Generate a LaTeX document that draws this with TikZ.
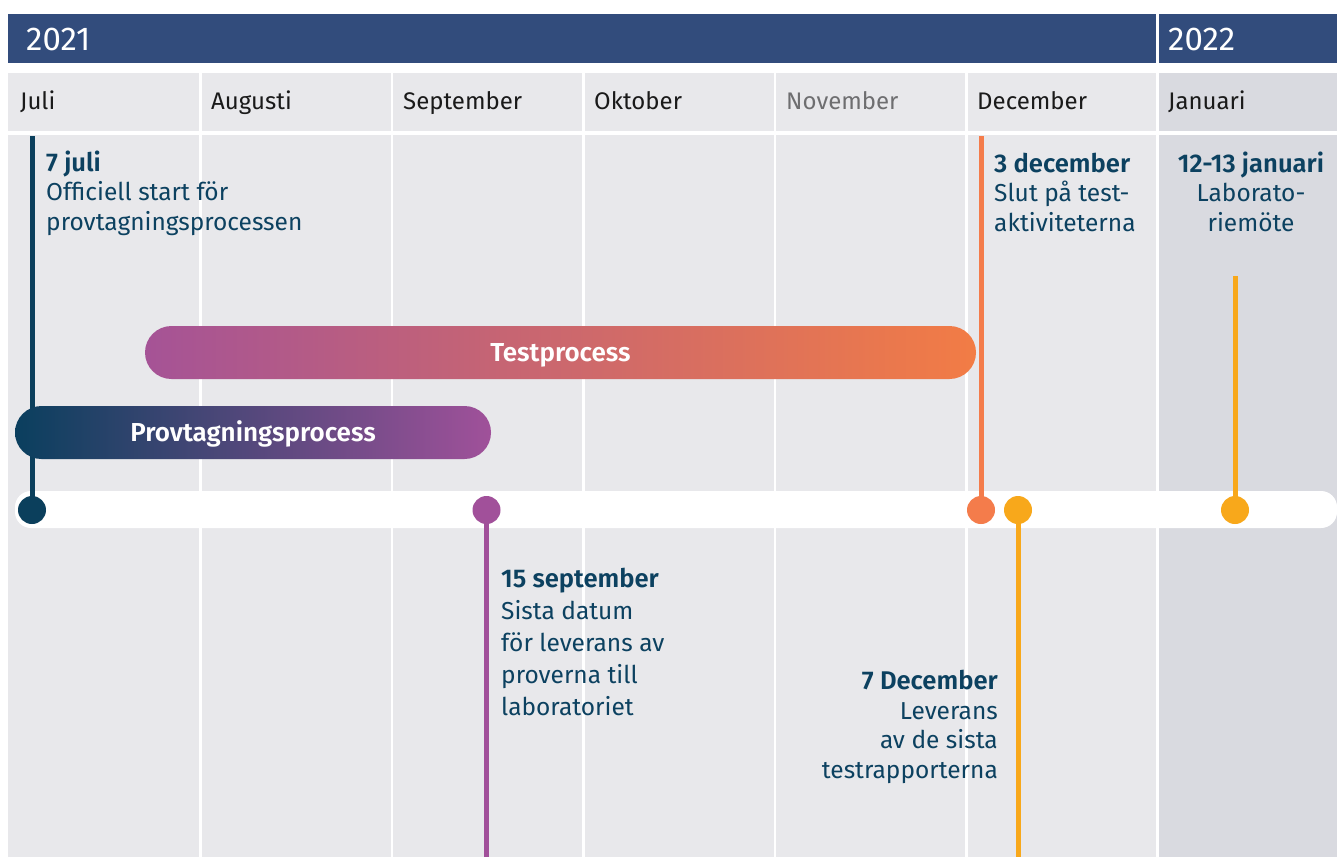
\documentclass[tikz,border=0pt]{standalone}
\usepackage{fontspec}
\setmainfont{Fira Sans}[BoldFont={Fira Sans SemiBold}]
\definecolor{banner}{HTML}{324C7C}
\definecolor{cell}{HTML}{E8E8EB}
\definecolor{cellj}{HTML}{D9DAE0}
\definecolor{ink}{HTML}{0C4160}
\definecolor{monthink}{HTML}{1A1A1A}
\definecolor{novink}{HTML}{6E6E70}
\definecolor{navy}{HTML}{0B3F5C}
\definecolor{purp}{HTML}{A1509A}
\definecolor{orng}{HTML}{F47C4B}
\definecolor{yell}{HTML}{F8A81B}
\definecolor{gradA}{HTML}{A55396}
\definecolor{gradB}{HTML}{F27C45}
\definecolor{gradC}{HTML}{0A3F5E}
\definecolor{gradD}{HTML}{A0519A}
\newcommand{\evhead}[1]{{\fontsize{25.6}{29.5}\selectfont\bfseries #1}}
\tikzset{
  yearlabel/.style={anchor=base west, inner sep=0pt, text=white, font=\fontsize{33}{38}\selectfont},
  monthlabel/.style={anchor=base west, inner sep=0pt, text=monthink, font=\fontsize{24}{28}\selectfont},
  evlabel/.style={inner sep=0pt, text=ink, font=\fontsize{24.5}{29.5}\selectfont},
  evlabelwide/.style={inner sep=0pt, text=ink, font=\fontsize{24.5}{32}\selectfont},
  stem/.style={line width=5pt},
  dot/.style={circle, inner sep=0pt, minimum size=28pt},
  pill/.style={rounded corners=26.5pt, minimum height=53pt, inner sep=0pt, text height=17.5pt, text depth=0pt, text=white, font=\fontsize{26}{30}\selectfont\bfseries},
  sep/.style={white, line width=2.5pt}
}
\begin{document}
\begin{tikzpicture}[x=1pt,y=-1pt]
\useasboundingbox (0,0) rectangle (1337,857);
% year banner
\fill[banner] (8,14) rectangle (1337,63);
\draw[sep] (1157.5,14) -- (1157.5,63);
\node[yearlabel] (y2021) at (26,50) {2021};
\node[yearlabel] (y2022) at (1168,50) {2022};
% month header and body
\fill[cell] (8,73) rectangle (1337,131);
\fill[cell] (8,135) rectangle (1337,857);
\fill[cellj] (1157.5,73) rectangle (1337,131);
\fill[cellj] (1157.5,135) rectangle (1337,857);
\foreach \sx in {200.5,392,583.5,775,966.5,1157.5}
  \draw[sep] (\sx,73) -- (\sx,857);
\node[monthlabel] (mjul) at (20,109) {Juli};
\node[monthlabel] (maug) at (211,109) {Augusti};
\node[monthlabel] (msep) at (403,109) {September};
\node[monthlabel] (mokt) at (594,109) {Oktober};
\node[monthlabel, text=novink] (mnov) at (786,109) {November};
\node[monthlabel] (mdec) at (977,109) {December};
\node[monthlabel] (mjan) at (1168,109) {Januari};
% timeline track
\fill[white, rounded corners=16pt] (15,491) rectangle (1337,528);
% coordinates
\coordinate (p1) at (32,510);   \coordinate (q1) at (32,136);
\coordinate (p2) at (486.5,510); \coordinate (q2) at (486.5,857);
\coordinate (p3) at (981,510);  \coordinate (q3) at (981,136);
\coordinate (p4) at (1018,510); \coordinate (q4) at (1018,857);
\coordinate (p5) at (1235,510); \coordinate (q5) at (1235,276);
% stems
\draw[stem, navy] (p1) -- (q1);
\draw[stem, purp] (p2) -- (q2);
\draw[stem, orng] (p3) -- (q3);
\draw[stem, yell] (p4) -- (q4);
\draw[stem, yell] (p5) -- (q5);
% process bars
\node[pill, minimum width=831pt, left color=gradA, right color=gradB] (test) at (560.5,352.5) {Testprocess};
\node[pill, minimum width=476pt, left color=gradC, right color=gradD] (prov) at (253,432.5) {Provtagningsprocess};
% dots
\node[dot, fill=navy] (d1) at (p1) {};
\node[dot, fill=purp] (d2) at (p2) {};
\node[dot, fill=orng] (d3) at (p3) {};
\node[dot, fill=yell] (d4) at (p4) {};
\node[dot, fill=yell] (d5) at (p5) {};
% event labels (anchored at the baseline of the last line)
\node[evlabel, anchor=base west, align=left] (ev1) at (46,230) {\evhead{7 juli}\\Officiell start för\\provtagningsprocessen};
\node[evlabel, anchor=base west, align=left] (ev2) at (994,231) {\evhead{3 december}\\Slut på test-\\aktiviteterna};
\node[evlabel, anchor=base, align=center] (ev3) at (1251,231) {\evhead{12-13 januari}\\Laborato-\\riemöte};
\node[evlabelwide, anchor=base west, align=left] (ev4) at (501,715) {\evhead{15 september}\\Sista datum\\för leverans av\\proverna till\\laboratoriet};
\node[evlabel, anchor=base east, align=right] (ev5) at (998,778) {\evhead{7 December}\\Leverans\\av de sista\\testrapporterna};
\end{tikzpicture}
\end{document}
